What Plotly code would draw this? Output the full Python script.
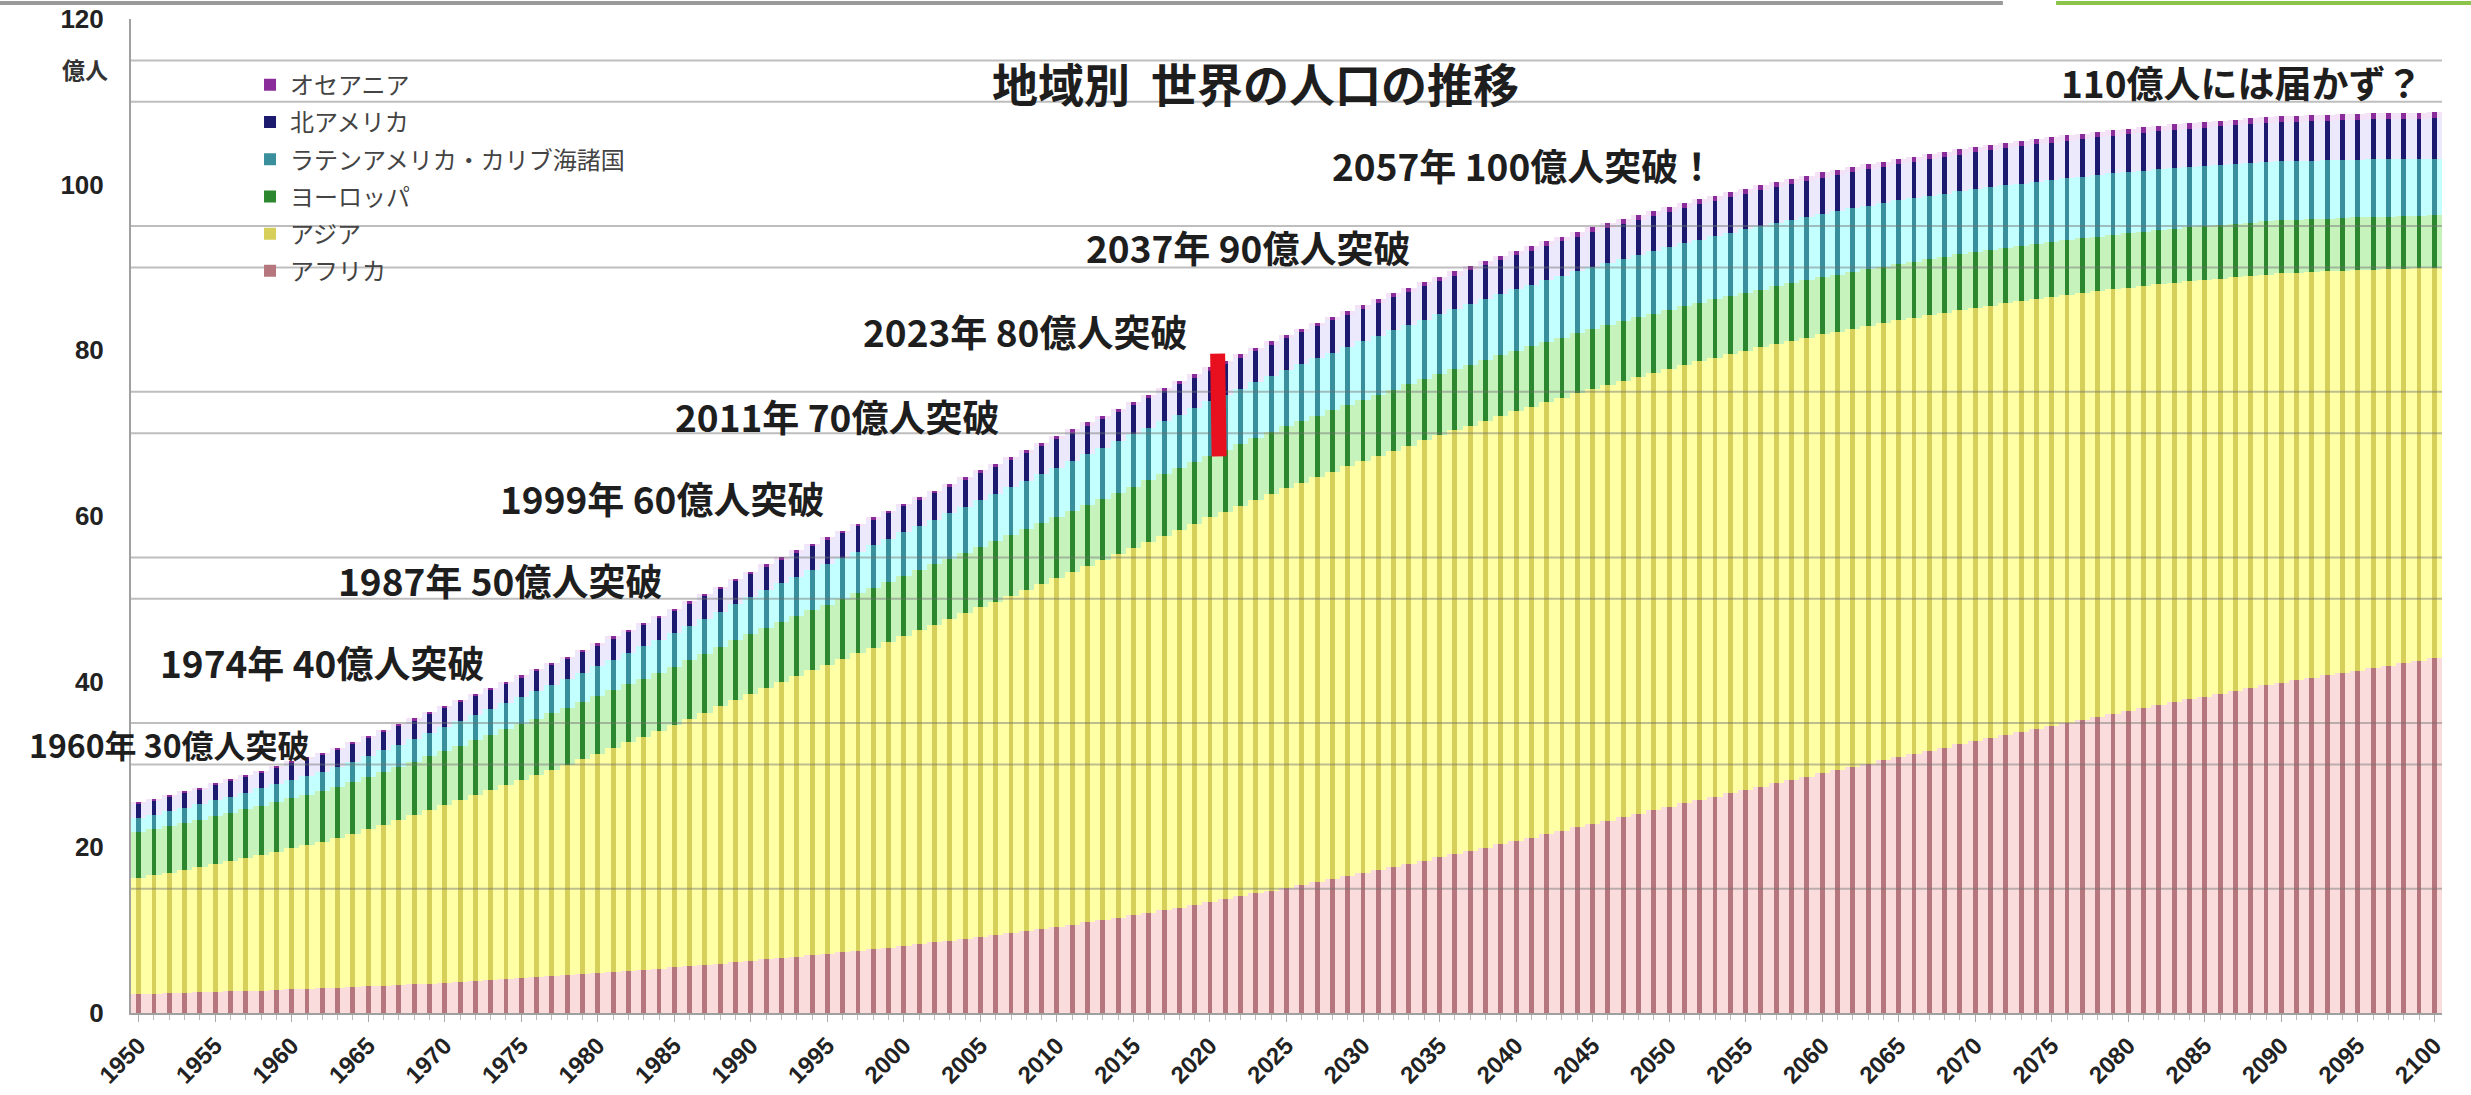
import plotly.graph_objects as go

# ---------------- data (population, millions) ----------------
YEARS = list(range(1950, 2101))
X_TICK_YEARS = list(range(1950, 2101, 5))
Y_TICKS = [0, 20, 40, 60, 80, 100, 120]
GRID_LEVELS = [15, 30, 35, 50, 55, 70, 75, 90, 95, 110, 115]

AFRICA = [
    228, 233, 238, 243, 248, 254, 260, 265, 271, 278,
    285, 291, 298, 306, 313, 321, 329, 338, 346, 356,
    365, 375, 385, 395, 406, 417, 429, 441, 453, 466,
    479, 493, 507, 521, 535, 550, 565, 580, 596, 613,
    630, 647, 663, 680, 697, 714, 732, 750, 769, 789,
    811, 831, 852, 873, 895, 918, 942, 966, 990, 1016,
    1039, 1066, 1093, 1121, 1150, 1179, 1209, 1241, 1273, 1308,
    1341, 1374, 1408, 1443, 1478, 1513, 1548, 1583, 1618, 1653,
    1688, 1726, 1764, 1802, 1841, 1880, 1919, 1958, 1998, 2038,
    2077, 2118, 2159, 2200, 2241, 2282, 2324, 2365, 2407, 2448,
    2489, 2530, 2570, 2611, 2651, 2692, 2732, 2772, 2813, 2853,
    2893, 2932, 2971, 3010, 3049, 3088, 3127, 3166, 3205, 3244,
    3283, 3320, 3357, 3394, 3431, 3467, 3504, 3541, 3578, 3614,
    3650, 3684, 3718, 3752, 3786, 3820, 3854, 3887, 3921, 3954,
    3988, 4017, 4047, 4076, 4105, 4134, 4163, 4192, 4221, 4250,
    4280,
]
ASIA = [
    1405, 1430, 1457, 1484, 1513, 1543, 1573, 1605, 1637, 1669,
    1705, 1733, 1764, 1803, 1847, 1896, 1944, 1992, 2041, 2091,
    2142, 2193, 2244, 2294, 2344, 2394, 2443, 2492, 2543, 2596,
    2650, 2704, 2759, 2813, 2869, 2925, 2984, 3044, 3105, 3166,
    3226, 3282, 3336, 3389, 3440, 3490, 3541, 3591, 3641, 3691,
    3741, 3789, 3836, 3884, 3931, 3978, 4024, 4070, 4117, 4164,
    4210, 4255, 4301, 4346, 4390, 4434, 4477, 4519, 4561, 4601,
    4641, 4679, 4716, 4752, 4788, 4823, 4854, 4885, 4916, 4945,
    4974, 4999, 5024, 5049, 5073, 5096, 5115, 5134, 5153, 5171,
    5189, 5202, 5216, 5229, 5241, 5253, 5261, 5269, 5276, 5283,
    5290, 5293, 5296, 5299, 5302, 5304, 5304, 5303, 5302, 5301,
    5300, 5295, 5290, 5285, 5280, 5275, 5266, 5258, 5249, 5240,
    5231, 5220, 5209, 5197, 5186, 5175, 5161, 5148, 5134, 5121,
    5107, 5092, 5077, 5061, 5046, 5030, 5012, 4994, 4976, 4958,
    4940, 4919, 4898, 4877, 4856, 4835, 4812, 4789, 4766, 4743,
    4720,
]
EUROPE = [
    549, 555, 560, 566, 571, 577, 582, 588, 594, 599,
    605, 611, 617, 623, 629, 635, 640, 644, 649, 653,
    657, 661, 665, 669, 673, 677, 681, 684, 688, 691,
    694, 697, 700, 703, 705, 708, 711, 714, 716, 719,
    721, 723, 725, 726, 727, 727, 727, 727, 726, 726,
    726, 726, 727, 727, 728, 729, 730, 732, 733, 735,
    736, 738, 739, 740, 742, 743, 744, 745, 746, 747,
    748, 748, 747, 747, 746, 746, 745, 744, 743, 742,
    741, 740, 739, 738, 737, 736, 735, 733, 732, 730,
    729, 727, 725, 724, 722, 720, 718, 716, 714, 712,
    710, 708, 706, 704, 702, 700, 698, 696, 694, 692,
    690, 688, 686, 685, 683, 681, 679, 678, 676, 675,
    673, 671, 670, 668, 667, 665, 664, 662, 661, 659,
    658, 656, 655, 653, 652, 650, 648, 647, 645, 644,
    642, 641, 640, 638, 637, 636, 635, 634, 632, 631,
    630,
]
LATAM = [
    169, 173, 178, 183, 188, 193, 198, 203, 209, 214,
    220, 226, 233, 239, 246, 253, 260, 267, 274, 281,
    288, 295, 303, 310, 318, 325, 333, 341, 348, 356,
    364, 372, 380, 389, 397, 405, 413, 421, 430, 438,
    446, 454, 462, 471, 479, 487, 495, 503, 511, 518,
    526, 534, 541, 549, 556, 563, 570, 577, 584, 590,
    597, 603, 610, 616, 622, 628, 633, 639, 644, 649,
    654, 659, 665, 670, 676, 681, 686, 691, 696, 701,
    706, 710, 714, 718, 721, 725, 728, 732, 735, 738,
    741, 743, 746, 748, 751, 753, 755, 757, 759, 760,
    762, 763, 764, 765, 765, 766, 767, 767, 768, 768,
    768, 767, 767, 766, 766, 765, 764, 763, 761, 760,
    759, 757, 755, 754, 752, 750, 748, 746, 743, 741,
    739, 736, 734, 731, 729, 726, 723, 720, 718, 715,
    712, 709, 706, 703, 700, 697, 694, 690, 687, 683,
    680,
]
N_AMERICA = [
    173, 175, 178, 181, 184, 187, 191, 194, 198, 201,
    205, 208, 211, 214, 217, 220, 222, 224, 227, 229,
    231, 233, 235, 238, 240, 242, 244, 247, 249, 252,
    254, 257, 259, 262, 264, 267, 270, 272, 275, 277,
    280, 283, 287, 290, 294, 297, 300, 303, 306, 309,
    312, 315, 318, 322, 325, 328, 331, 334, 337, 340,
    343, 346, 349, 351, 354, 357, 359, 362, 364, 367,
    369, 371, 374, 376, 379, 381, 383, 386, 388, 391,
    393, 395, 397, 399, 401, 403, 405, 407, 409, 411,
    413, 414, 415, 417, 418, 419, 420, 421, 423, 424,
    425, 426, 427, 428, 429, 430, 431, 432, 433, 434,
    435, 436, 437, 438, 439, 440, 441, 442, 443, 444,
    445, 446, 447, 448, 449, 450, 451, 452, 454, 455,
    456, 458, 459, 461, 462, 464, 466, 468, 470, 472,
    474, 476, 478, 480, 481, 483, 485, 486, 488, 489,
    491,
]
OCEANIA = [
    13, 13, 13, 14, 14, 14, 15, 15, 15, 16,
    16, 16, 17, 17, 18, 18, 18, 19, 19, 19,
    20, 20, 21, 21, 21, 22, 22, 22, 22, 23,
    23, 23, 24, 24, 25, 25, 25, 26, 26, 27,
    27, 28, 28, 28, 29, 29, 30, 30, 30, 31,
    31, 32, 32, 33, 33, 34, 34, 35, 36, 36,
    37, 37, 38, 39, 39, 40, 40, 41, 41, 42,
    43, 43, 44, 44, 45, 46, 46, 47, 47, 48,
    48, 49, 49, 50, 50, 51, 51, 52, 52, 53,
    53, 54, 54, 55, 55, 56, 56, 56, 57, 57,
    57, 58, 58, 59, 59, 59, 60, 60, 60, 61,
    61, 61, 62, 62, 62, 63, 63, 63, 64, 64,
    65, 65, 65, 66, 66, 66, 67, 67, 67, 68,
    68, 68, 69, 69, 69, 70, 70, 70, 71, 71,
    71, 72, 72, 72, 73, 73, 73, 74, 74, 74,
    75,
]

REGION_NAMES = ["アフリカ", "アジア", "ヨーロッパ",
                "ラテンアメリカ・カリブ海諸国", "北アメリカ", "オセアニア"]
SERIES = [AFRICA, ASIA, EUROPE, LATAM, N_AMERICA, OCEANIA]

DARK = ["#b5777d", "#d6d05a", "#2c872f", "#3a8f9c", "#1b1a6e", "#8a2c9a"]
LIGHT = ["#fbdcdc", "#ffffa6", "#c6f2bc", "#c4ffff", "#ebe9fb", "#f4e2f6"]

JP = "Noto Sans CJK JP"
LAT = "Liberation Sans"

fig = go.Figure()

# light full-width bars (background tint between stripes)
for name, vals, lt in zip(REGION_NAMES, SERIES, LIGHT):
    fig.add_trace(go.Bar(
        x=YEARS, y=[v / 100 for v in vals], width=1.0,
        marker=dict(color=lt, line=dict(width=0)),
        showlegend=False, hoverinfo="skip", xaxis="x", yaxis="y",
    ))

# dark narrow stripes
n = len(REGION_NAMES)
for i, (name, vals, dk) in enumerate(zip(REGION_NAMES, SERIES, DARK)):
    fig.add_trace(go.Bar(
        x=YEARS, y=[v / 100 for v in vals], width=0.32,
        marker=dict(color=dk, line=dict(width=0)),
        name=name, legendgroup=name, legendrank=n - i, xaxis="x2", yaxis="y",
    ))

shapes = []
for g in GRID_LEVELS:
    shapes.append(dict(type="line", xref="paper", yref="y", x0=0, x1=1, y0=g, y1=g,
                       line=dict(color="rgba(110,110,110,0.45)", width=2), layer="above"))
# red hand-drawn mark
shapes.append(dict(type="line", xref="x", yref="y", x0=2020.5, x1=2020.6, y0=79.6, y1=67.2,
                   line=dict(color="#e8101e", width=15), layer="above"))
# window chrome lines at the top
shapes.append(dict(type="line", xref="paper", yref="paper", x0=-0.057, x1=0.81, y0=1.016, y1=1.016,
                   line=dict(color="#9a9a9a", width=4)))
shapes.append(dict(type="line", xref="paper", yref="paper", x0=0.833, x1=1.013, y0=1.016, y1=1.016,
                   line=dict(color="#8cc34a", width=4)))

ann_font = dict(family=JP, size=37, color="#1e1e1e", weight="bold")
annotations = [
    dict(x=2023.0, y=112.4, text="地域別  世界の人口の推移", font=dict(family=JP, size=46, color="#1e1e1e", weight="bold"), xanchor="center"),
    dict(x=2099.4, y=112.4, text="110億人には届かず？", font=ann_font, xanchor="right"),
    dict(x=2040.5, y=102.4, text="2057年 100億人突破！", font=ann_font, xanchor="center"),
    dict(x=2022.5, y=92.5, text="2037年 90億人突破", font=ann_font, xanchor="center"),
    dict(x=2007.9, y=82.3, text="2023年 80億人突破", font=ann_font, xanchor="center"),
    dict(x=1995.6, y=72.1, text="2011年 70億人突破", font=ann_font, xanchor="center"),
    dict(x=1984.2, y=62.2, text="1999年 60億人突破", font=ann_font, xanchor="center"),
    dict(x=1973.6, y=52.3, text="1987年 50億人突破", font=ann_font, xanchor="center"),
    dict(x=1962.0, y=42.4, text="1974年 40億人突破", font=ann_font, xanchor="center"),
    dict(x=1961.3, y=32.5, text="1960年 30億人突破", font=dict(family=JP, size=32, color="#1e1e1e", weight="bold"), xanchor="right"),
]
for a in annotations:
    a.update(xref="x", yref="y", showarrow=False, yanchor="middle")
annotations.append(dict(xref="paper", yref="paper", x=-0.009, y=0.95, text="億人", showarrow=False,
                        font=dict(family=JP, size=23, color="#333", weight="bold"),
                        xanchor="right", yanchor="middle"))

fig.update_layout(
    width=2471, height=1095,
    margin=dict(l=131, r=29, t=19, b=82),
    paper_bgcolor="white", plot_bgcolor="white",
    barmode="stack", bargap=0,
    font=dict(family=LAT + ", " + JP, color="#222"),
    xaxis=dict(range=[1949.5, 2100.5], tickmode="array", tickvals=X_TICK_YEARS,
               ticktext=[str(y) for y in X_TICK_YEARS], tickangle=-45, automargin=False,
               tickfont=dict(family=LAT, size=24, color="#222", weight="bold"),
               ticks="outside", ticklen=7, tickcolor="#aaa", tickwidth=1,
               minor=dict(dtick=1, tick0=1950, ticks="outside", ticklen=5, tickcolor="#bbb"),
               showline=True, linecolor="#a0a0a0", linewidth=2, showgrid=False, zeroline=False),
    xaxis2=dict(overlaying="x", matches="x", range=[1949.5, 2100.5], visible=False),
    yaxis=dict(range=[0, 120], tickmode="array", tickvals=Y_TICKS, automargin=False,
               tickfont=dict(family=LAT, size=26, color="#222", weight="bold"),
               ticklabelstandoff=20, ticks="",
               showline=True, linecolor="#a0a0a0", linewidth=2, showgrid=False, zeroline=False),
    legend=dict(x=0.0515, y=0.956, xanchor="left", yanchor="top",
                traceorder="grouped", tracegroupgap=3, itemwidth=30,
                font=dict(family=JP, size=24, color="#444"), bgcolor="rgba(0,0,0,0)"),
    shapes=shapes, annotations=annotations,
)

fig.write_html("out.html", config={"displayModeBar": False},
               post_script="document.body.style.margin='0';document.body.style.overflow='hidden';")
